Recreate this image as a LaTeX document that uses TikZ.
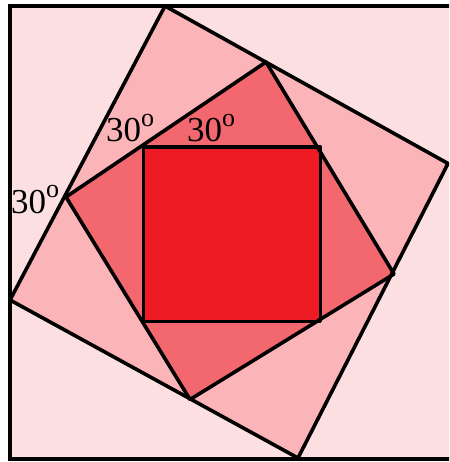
\documentclass[tikz,border=0pt]{standalone}
\usepackage{fontspec}
\setmainfont{Liberation Serif}
\definecolor{bgpale}{HTML}{FCDFE1}
\definecolor{lightpink}{HTML}{FBB4B8}
\definecolor{midpink}{HTML}{F3686F}
\definecolor{mainred}{HTML}{ED1C24}
\tikzset{
  edge/.style={draw=black, line width=3.6pt, line join=round},
  anglelabel/.style={anchor=base west, inner sep=0pt, outer sep=0pt, text=black},
}
\newcommand{\degtxt}{{\fontsize{35}{35}\selectfont 30\raisebox{15.5pt}{\fontsize{26}{26}\selectfont o}}}
\begin{document}
\begin{tikzpicture}[x=1pt,y=-1pt]
\useasboundingbox (0,0) rectangle (449,462);
\clip (0,0) rectangle (449,462);
\fill[white] (0,0) rectangle (449,462);
% outer frame
\coordinate (O1) at (10,5.7);
\coordinate (O2) at (462,459.3);
% second square
\coordinate (T2) at (165,6);
\coordinate (R2) at (448,163.5);
\coordinate (B2) at (298,458);
\coordinate (L2) at (10,300);
% third square
\coordinate (T3) at (266,62);
\coordinate (R3) at (394,274);
\coordinate (B3) at (190,399.5);
\coordinate (L3) at (66,197);
% inner square
\coordinate (Q1) at (143.5,147);
\coordinate (Q2) at (320.5,321.5);

\fill[bgpale] (O1) rectangle (O2);
\fill[lightpink] (T2) -- (R2) -- (B2) -- (L2) -- cycle;
\fill[midpink] (T3) -- (R3) -- (B3) -- (L3) -- cycle;
\fill[mainred] (Q1) rectangle (Q2);

\draw[edge] (T2) -- (R2) -- (B2) -- (L2) -- cycle;
\draw[edge] (T3) -- (R3) -- (B3) -- (L3) -- cycle;
\draw[edge] (Q1) rectangle (Q2);
\draw[draw=black, line width=3.8pt] (O1) rectangle (O2);

\node[anglelabel] (a1) at (106,142) {\degtxt};
\node[anglelabel] (a2) at (187,142) {\degtxt};
\node[anglelabel] (a3) at (11,213) {\degtxt};
\end{tikzpicture}
\end{document}
